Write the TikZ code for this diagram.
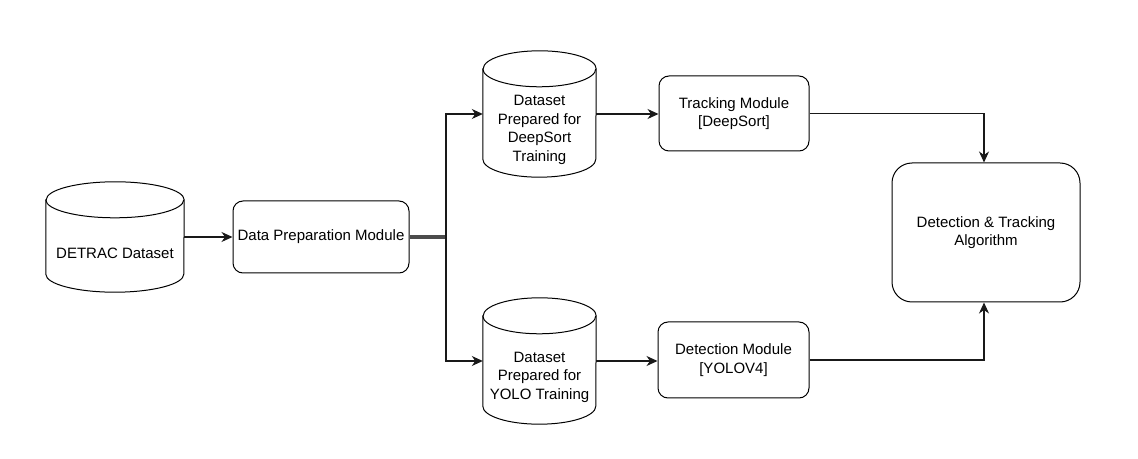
\documentclass[tikz,border=0pt]{standalone}
\usepackage{fontspec}
\setmainfont{Liberation Sans}
\usetikzlibrary{arrows.meta,calc}
\begin{document}
\begin{tikzpicture}[x=1pt,y=1pt,
  every node/.style={font=\fontsize{15}{18.5}\selectfont, align=center, text=black},
  box/.style={draw, line width=1pt, rounded corners=10pt, fill=white, inner sep=0pt},
  bigbox/.style={box, rounded corners=20pt},
  cylbox/.style={draw=none, inner sep=0pt},
  conn/.style={line width=1.1pt, draw=black!90, -{Stealth[length=11pt,width=10pt,inset=3.5pt]}},
  thick conn/.style={line width=3.2pt, draw=black!70}
]
\useasboundingbox (0,0) rectangle (1138,458);
\fill[white] (0,0) rectangle (1138,458);

\newcommand{\cylshape}[3]{% name, rx, ry (numbers)
  \draw[line width=1pt, fill=white]
    ($(#1.north west)+(0,-#3)$) -- ($(#1.south west)+(0,#3)$)
    arc[start angle=180, end angle=360, x radius=#2, y radius=#3]
    -- ($(#1.north east)+(0,-#3)$)
    arc[start angle=0, end angle=180, x radius=#2, y radius=#3]
    -- cycle;
  \draw[line width=1pt]
    ($(#1.north west)+(0,-#3)$)
    arc[start angle=180, end angle=360, x radius=#2, y radius=#3];
}

% cylinders (bounding nodes)
\node[cylbox, minimum width=138pt, minimum height=110pt] (detrac) at (115,221) {};
\node[cylbox, minimum width=113pt, minimum height=126pt] (ds) at (539.5,344) {};
\node[cylbox, minimum width=113pt, minimum height=126pt] (ys) at (539.5,97) {};

\cylshape{detrac}{69}{18}
\cylshape{ds}{56.5}{18}
\cylshape{ys}{56.5}{18}

\node (detrac-t) at ($(detrac.center)+(0,-16)$) {DETRAC Dataset};
\node (ds-t) at ($(ds.center)+(0,-16)$) {Dataset\\Prepared for\\DeepSort\\Training};
\node (ys-t) at ($(ys.center)+(0,-16)$) {Dataset\\Prepared for\\YOLO Training};

% boxes
\node[box, minimum width=176pt, minimum height=72pt] (dp) at (321,221) {Data Preparation Module};
\node[box, minimum width=150pt, minimum height=75pt] (tr) at (734,344.5) {Tracking Module\\{}[DeepSort]};
\node[box, minimum width=151pt, minimum height=76pt] (det) at (733.5,98) {Detection Module\\{}[YOLOV4]};
\node[bigbox, minimum width=188pt, minimum height=139pt] (dt) at (986,225.5) {Detection \& Tracking\\Algorithm};

% connectors
\coordinate (split) at (446,221);
\draw[conn] (detrac.east) -- (dp.west);
\draw[thick conn] (dp.east) -- (split);
\draw[conn] (split) |- (ds.west);
\draw[conn] (split) |- (ys.west);
\draw[conn] (ds.east) -- (ds.east -| tr.west);
\draw[conn] (ys.east) -- (ys.east -| det.west);
\draw[conn] (tr.east) -| ([xshift=-2pt]dt.north);
\draw[conn] (det.east) -| ([xshift=-2pt]dt.south);
\end{tikzpicture}
\end{document}
